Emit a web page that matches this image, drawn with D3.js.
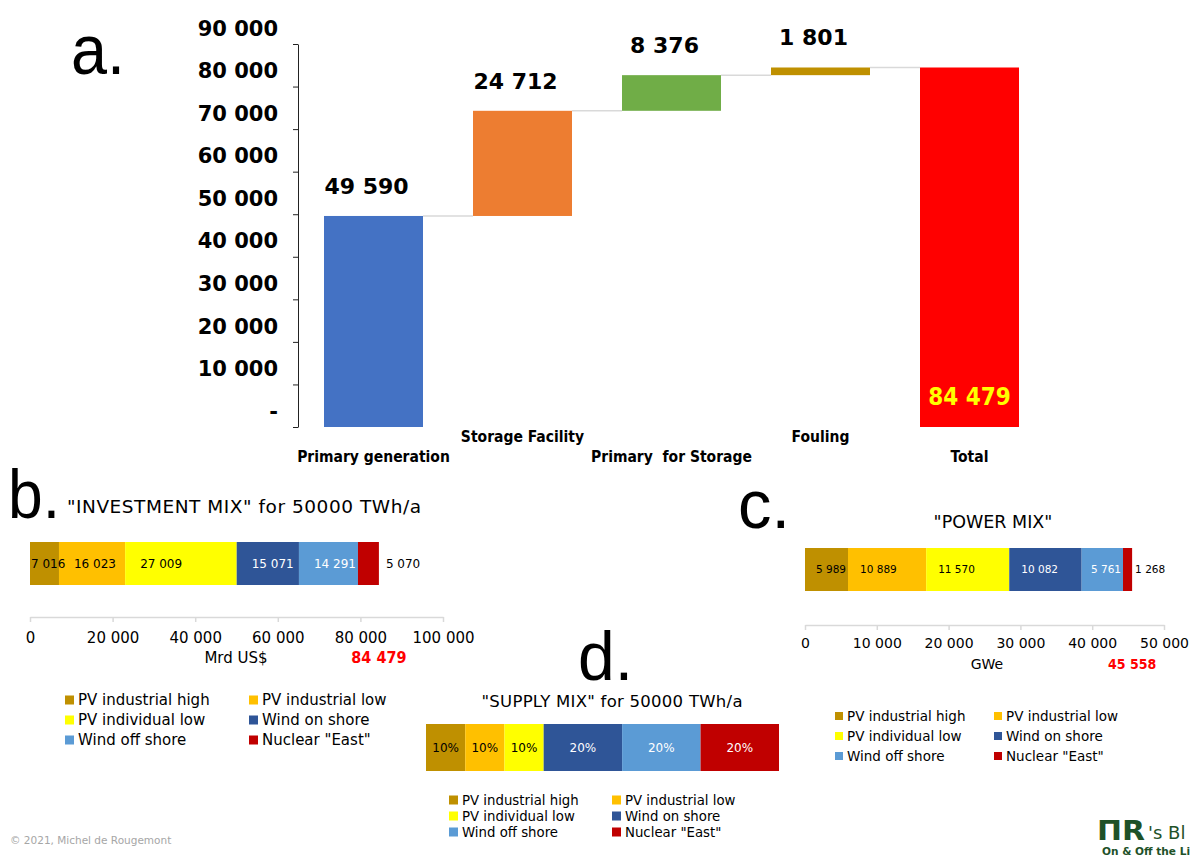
<!DOCTYPE html>
<html>
<head>
<meta charset="utf-8">
<script src="https://cdn.jsdelivr.net/npm/d3@7/dist/d3.min.js"></script>
<style>
  html, body { margin: 0; padding: 0; background: #fff; }
  svg { display: block; }
  .cond { font-family: "DejaVu Sans Condensed", "DejaVu Sans", sans-serif; font-stretch: condensed; }
  .sans { font-family: "DejaVu Sans", Verdana, sans-serif; }
  .big { font-family: "Liberation Sans", Arial, sans-serif; }
  .pre { white-space: pre; }
</style>
</head>
<body>
<svg id="chart" width="1195" height="857"></svg>
<script>
// ---------- DATA ----------
const wfCategories = ["Primary generation", "Storage Facility", "Primary  for Storage", "Fouling", "Total"];
const wfValues = [49590, 24712, 8376, 1801, 84479];
const wfColors = ["#4472C4", "#ED7D31", "#70AD47", "#BF9000", "#FF0000"];
const wfTicks = [0, 10000, 20000, 30000, 40000, 50000, 60000, 70000, 80000, 90000];

const mixSeries = ["PV industrial high", "PV industrial low", "PV individual low", "Wind on shore", "Wind off shore", "Nuclear \"East\""];
const mixColors = ["#BF9000", "#FFC000", "#FFFF00", "#2F5597", "#5B9BD5", "#C00000"];
const mixLabelColors = ["#000", "#000", "#000", "#fff", "#fff", "#fff"];

const investValues = [7016, 16023, 27009, 15071, 14291, 5070];
const investTotal = 84479;
const investTicks = [0, 20000, 40000, 60000, 80000, 100000];

const powerValues = [5989, 10889, 11570, 10082, 5761, 1268];
const powerTotal = 45558;
const powerTicks = [0, 10000, 20000, 30000, 40000, 50000];

const supplyValues = [10, 10, 10, 20, 20, 20];

// ---------- HELPERS ----------
const svg = d3.select("#chart");
const fmt = v => d3.format(",")(v).replace(/,/g, " ");

// ---------- PANEL A: WATERFALL ----------
const x = d3.scaleBand().domain(wfCategories).range([299, 1044]).paddingInner(0.3356).paddingOuter(0.1678);
const y = d3.scaleLinear().domain([0, 90000]).range([427, 44]);

const wfBars = [];
let cum = 0;
wfValues.forEach((v, i) => {
  if (i === wfValues.length - 1) {
    wfBars.push({ cat: wfCategories[i], v, y0: 0, y1: v, color: wfColors[i], total: true });
  } else {
    wfBars.push({ cat: wfCategories[i], v, y0: cum, y1: cum + v, color: wfColors[i], total: false });
    cum += v;
  }
});

const gA = svg.append("g");

for (let i = 0; i < wfBars.length - 1; i++) {
  const lvl = wfBars[i].y1;
  gA.append("line")
    .attr("x1", x(wfBars[i].cat) + x.bandwidth())
    .attr("x2", x(wfBars[i + 1].cat))
    .attr("y1", y(lvl)).attr("y2", y(lvl))
    .attr("stroke", "#d9d9d9").attr("stroke-width", 1.5);
}

gA.selectAll("rect.wf").data(wfBars).join("rect")
  .attr("class", "wf")
  .attr("x", d => x(d.cat))
  .attr("width", x.bandwidth())
  .attr("y", d => y(d.y1))
  .attr("height", d => y(d.y0) - y(d.y1))
  .attr("fill", d => d.color);

gA.selectAll("text.wfv").data(wfBars.filter(d => !d.total)).join("text")
  .attr("class", "wfv sans")
  .attr("x", d => x(d.cat) + x.bandwidth() / 2 - 7)
  .attr("y", d => y(d.y1) - 22)
  .attr("text-anchor", "middle")
  .attr("font-weight", "bold")
  .attr("font-size", 22)
  .attr("fill", "#000")
  .text(d => fmt(d.v));

const tot = wfBars[wfBars.length - 1];
gA.append("text")
  .attr("class", "cond")
  .attr("x", x(tot.cat) + x.bandwidth() / 2)
  .attr("y", y(0) - 22)
  .attr("text-anchor", "middle")
  .attr("font-weight", "bold")
  .attr("font-size", 24)
  .attr("fill", "#FFFF00")
  .text(fmt(tot.v));

gA.selectAll("text.wfc").data(wfCategories).join("text")
  .attr("class", "wfc cond pre")
  .attr("xml:space", "preserve")
  .attr("x", d => x(d) + x.bandwidth() / 2)
  .attr("y", (d, i) => i % 2 === 0 ? 462 : 442)
  .attr("text-anchor", "middle")
  .attr("font-weight", "bold")
  .attr("font-size", 15.5)
  .attr("fill", "#000")
  .text(d => d);

const yAxis = d3.axisLeft(y).tickValues(wfTicks).tickSize(5).tickSizeOuter(0).tickPadding(15)
  .tickFormat(v => v === 0 ? "-" : fmt(v));
const gy = gA.append("g").attr("transform", "translate(298,0)").call(yAxis);
gy.select(".domain").attr("stroke", "#222");
gy.selectAll(".tick line").attr("stroke", "#222");
gy.selectAll(".tick text")
  .attr("class", "sans")
  .attr("font-weight", "bold")
  .attr("font-size", 21)
  .attr("fill", "#000")
  .attr("dy", "-0.42em");

svg.append("text").attr("class", "big").attr("x", 71).attr("y", 74)
  .attr("font-size", 70).attr("fill", "#000").attr("textLength", 54).attr("lengthAdjust", "spacingAndGlyphs").text("a.");

// ---------- STACKED BAR HELPER ----------
function stackedBar(opts) {
  const g = svg.append("g");
  const xs = d3.scaleLinear().domain(opts.domain).range(opts.range);
  let acc = 0;
  const segs = opts.values.map((v, i) => {
    const s = { i, v, x0: acc, x1: acc + v };
    acc += v;
    return s;
  });
  g.selectAll("rect").data(segs).join("rect")
    .attr("x", d => xs(d.x0))
    .attr("width", d => xs(d.x1) - xs(d.x0))
    .attr("y", opts.y)
    .attr("height", opts.h)
    .attr("fill", d => mixColors[d.i]);

  const labels = g.selectAll("text.seg").data(segs).join("text")
    .attr("class", "seg sans")
    .attr("font-size", opts.labelSize)
    .attr("y", opts.y + opts.h / 2)
    .attr("dy", "0.35em")
    .text(d => opts.labelFmt(d.v));

  labels.each(function (d) {
    const t = d3.select(this);
    const tw = this.getComputedTextLength();
    const w = xs(d.x1) - xs(d.x0);
    if (opts.outsideLast && d.i === segs.length - 1) {
      t.attr("x", xs(d.x1) + opts.outsidePad).attr("text-anchor", "start").attr("fill", "#000");
    } else if (opts.center) {
      t.attr("x", xs(d.x0) + w / 2).attr("text-anchor", "middle").attr("fill", mixLabelColors[d.i]);
    } else {
      const pad = Math.max(1, Math.min(opts.pad, w - tw - 2));
      t.attr("x", xs(d.x0) + pad).attr("text-anchor", "start").attr("fill", mixLabelColors[d.i]);
    }
  });

  if (opts.ticks) {
    const ax = d3.axisBottom(xs).tickValues(opts.ticks).tickSize(5).tickSizeOuter(0)
      .tickPadding(opts.tickPad).tickFormat(fmt);
    const ga = g.append("g").attr("transform", `translate(0,${opts.axisY})`).call(ax);
    ga.select(".domain").attr("stroke", "#d9d9d9").attr("stroke-width", 1.5);
    ga.selectAll(".tick line").attr("stroke", "#d9d9d9").attr("stroke-width", 1.5);
    ga.selectAll(".tick text").attr("class", "sans").attr("font-size", opts.tickSize).attr("fill", "#000");
  }
  return xs;
}

function legend(x0, x1, y0, dy, sw, size) {
  const g = svg.append("g");
  mixSeries.forEach((s, i) => {
    const cx = i % 2 === 0 ? x0 : x1;
    const cy = y0 + Math.floor(i / 2) * dy;
    g.append("rect").attr("x", cx).attr("y", cy - sw / 2).attr("width", sw).attr("height", sw).attr("fill", mixColors[i]);
    g.append("text").attr("class", "sans").attr("x", cx + sw + 4).attr("y", cy).attr("dy", "0.35em")
      .attr("font-size", size).attr("fill", "#000").text(s);
  });
}

// ---------- PANEL B ----------
svg.append("text").attr("class", "big").attr("x", 8).attr("y", 518)
  .attr("font-size", 68).attr("fill", "#000").attr("textLength", 52).attr("lengthAdjust", "spacingAndGlyphs").text("b.");
svg.append("text").attr("class", "sans").attr("x", 67).attr("y", 513)
  .attr("font-size", 18.5).attr("fill", "#000").attr("textLength", 354).attr("lengthAdjust", "spacing")
  .text("\"INVESTMENT MIX\" for 50000 TWh/a");

const xsB = stackedBar({
  values: investValues, domain: [0, 100000], range: [30, 443], y: 542, h: 43,
  labelSize: 12, labelFmt: fmt, pad: 15, outsideLast: true, outsidePad: 7,
  ticks: investTicks, axisY: 617, tickPad: 10, tickSize: 15
});
svg.append("text").attr("class", "sans").attr("x", 236).attr("y", 663).attr("text-anchor", "middle")
  .attr("font-size", 15).attr("fill", "#000").text("Mrd US$");
svg.append("text").attr("class", "cond").attr("x", xsB(investTotal)).attr("y", 663).attr("text-anchor", "middle")
  .attr("font-size", 16).attr("font-weight", "bold").attr("fill", "#FF0000").text(fmt(investTotal));
legend(65, 249, 700, 20, 9, 15);

// ---------- PANEL C ----------
svg.append("text").attr("class", "big").attr("x", 738).attr("y", 528)
  .attr("font-size", 68).attr("fill", "#000").attr("textLength", 52).attr("lengthAdjust", "spacingAndGlyphs").text("c.");
svg.append("text").attr("class", "sans").attr("x", 993).attr("y", 528).attr("text-anchor", "middle")
  .attr("font-size", 17.5).attr("fill", "#000").text("\"POWER MIX\"");

const xsC = stackedBar({
  values: powerValues, domain: [0, 50000], range: [805, 1164], y: 548, h: 43,
  labelSize: 10.5, labelFmt: fmt, pad: 12, outsideLast: true, outsidePad: 3,
  ticks: powerTicks, axisY: 625, tickPad: 8, tickSize: 14
});
svg.append("text").attr("class", "sans").attr("x", 987).attr("y", 669).attr("text-anchor", "middle")
  .attr("font-size", 14).attr("fill", "#000").text("GWe");
svg.append("text").attr("class", "cond").attr("x", xsC(powerTotal)).attr("y", 669).attr("text-anchor", "middle")
  .attr("font-size", 14).attr("font-weight", "bold").attr("fill", "#FF0000").text(fmt(powerTotal));
legend(835, 994, 716, 20, 8, 13.5);

// ---------- PANEL D ----------
svg.append("text").attr("class", "big").attr("x", 578).attr("y", 680)
  .attr("font-size", 68).attr("fill", "#000").attr("textLength", 55).attr("lengthAdjust", "spacingAndGlyphs").text("d.");
svg.append("text").attr("class", "sans").attr("x", 612).attr("y", 707).attr("text-anchor", "middle")
  .attr("font-size", 16.5).attr("fill", "#000").attr("textLength", 261).attr("lengthAdjust", "spacing")
  .text("\"SUPPLY MIX\" for 50000 TWh/a");

stackedBar({
  values: supplyValues, domain: [0, 90], range: [426, 779], y: 724, h: 47,
  labelSize: 12, labelFmt: v => v + "%", center: true
});
legend(449, 612, 800, 16, 9, 13.3);

// ---------- FOOTER ----------
svg.append("text").attr("class", "sans").attr("x", 10).attr("y", 844)
  .attr("font-size", 10.5).attr("fill", "#a6a6a6").text("© 2021, Michel de Rougemont");
svg.append("text").attr("class", "sans").attr("x", 1097).attr("y", 840)
  .attr("font-size", 27).attr("font-weight", "bold").attr("fill", "#1E5128")
  .attr("textLength", 48).attr("lengthAdjust", "spacingAndGlyphs").text("ΠR");
svg.append("text").attr("class", "sans").attr("x", 1148).attr("y", 839)
  .attr("font-size", 18).attr("fill", "#1E5128").text("'s Bl");
svg.append("text").attr("class", "cond").attr("x", 1102).attr("y", 855)
  .attr("font-size", 11).attr("font-weight", "bold").attr("fill", "#1E5128")
  .attr("textLength", 88).attr("lengthAdjust", "spacingAndGlyphs").text("On & Off the Li");
</script>
</body>
</html>
